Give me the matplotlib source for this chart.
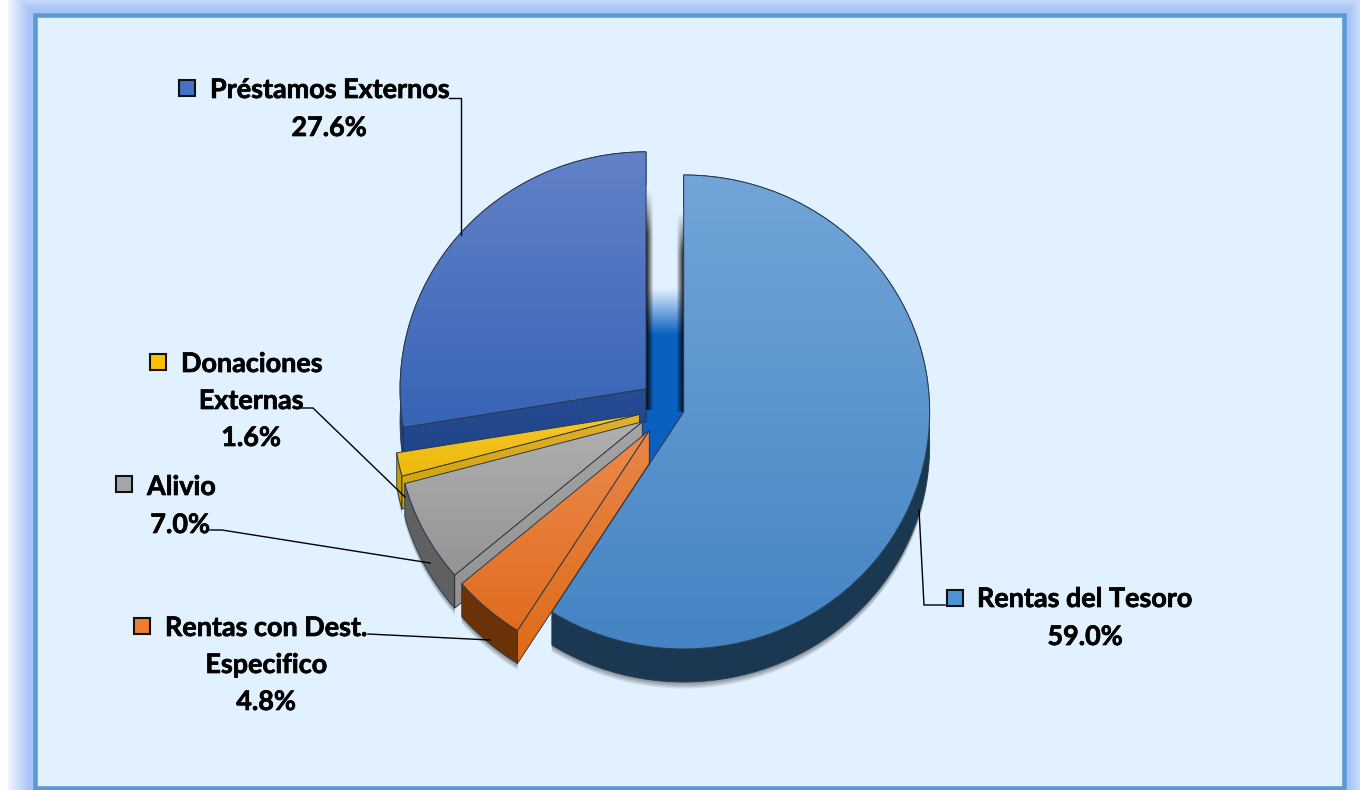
import numpy as np
import matplotlib
matplotlib.use('Agg')
from matplotlib import pyplot as plt
from matplotlib import patheffects
from matplotlib.colors import to_rgb
from matplotlib.patches import Polygon, Rectangle

# slices, clockwise from the top
names = ['Rentas del Tesoro', 'Rentas con Dest.\nEspecifico', 'Alivio', 'Donaciones\nExternas', 'Préstamos Externos']
shares = [59.0, 4.8, 7.0, 1.6, 27.6]
explode = [0.06, 0.125, 0.125, 0.125, 0.125]

top_light = ['#72a5d8', '#ec8a4c', '#b0b0b0', '#f5c62e', '#6282c8']
top_dark = ['#4484c4', '#e06c1e', '#949494', '#eeb908', '#3864b6']
cut_light = ['#1b3a58', '#e88548', '#a4a4a4', '#e0b030', '#264c94']
cut_dark = ['#1b3a58', '#dd6c18', '#929292', '#cfa000', '#1f4488']
arc_colors = ['#1b3853', '#6b3208', '#606060', '#c89a00', '#1f4488']
key_colors = ['#4f93d6', '#ed7d31', '#a5a5a5', '#ffc000', '#4472c4']

# px positions for the text block: key box left/top, text left, centre y
key_box = [(947, 590), (134, 618), (116, 476), (150, 354), (179, 80)]
label_left = [977, 165, 147, 181, 210]
line_y = [599, 628, 487, 364, 90]
line_gap = [38, 37, 38, 37, 38]
centre_x = [1085, 266, 180, 251, 329]

leaders = [
    ([919, 924, 945], [510, 605, 605]),
    ([368, 490], [634, 640]),
    ([210, 222, 430], [530, 530, 563]),
    ([302, 313, 405], [408, 408, 497]),
    ([449, 461, 461], [98, 98, 235]),
]

W, H = 1360, 790
RX, RY = 246.0, 237.0   # pie is a little flattened
DEPTH = 33 / RY
FRAME = (34.5, 14.5, 1344, 787.5)

fig = plt.figure(figsize=(W / 100, H / 100), dpi=100)
plt.rcParams['font.family'] = ['Lato', 'DejaVu Sans']

# background: soft glow, frame and pale inner panel
bg = fig.add_axes([0, 0, 1, 1], zorder=0)
bg.set_xlim(0, W)
bg.set_ylim(H, 0)
bg.axis('off')
bg.autoscale(False)
xx, yy = np.meshgrid(np.arange(W) + 0.5, np.arange(H) + 0.5)
dist = np.maximum.reduce([FRAME[0] - xx, xx - FRAME[2], FRAME[1] - yy, yy - FRAME[3], np.zeros_like(xx)])
t = np.clip((dist - 5) / 20, 0, 1)[..., None]
glow = (1 - t) * np.array(to_rgb('#a6c4f7')) + t * np.array(to_rgb('#eef3fd'))
glow[xx < 8] = 1.0
bg.imshow(glow, extent=(0, W, H, 0), aspect='auto', zorder=0)
bg.add_patch(Rectangle((FRAME[0], FRAME[1]), FRAME[2] - FRAME[0], FRAME[3] - FRAME[1],
                       facecolor='#e1f1ff', edgecolor='#5b9bd5', linewidth=3.3, zorder=1))

# blue glow in the gap between the two big slices
strip = np.ones((200, 1, 4))
strip[..., :3] = to_rgb('#0a60bf')
strip[:, 0, 3] = np.clip((np.linspace(285, 470, 200) - 288) / 46, 0, 1)
bg.imshow(strip, extent=(636, 684, 470, 285), aspect='auto', zorder=2, interpolation='bilinear')

# dark soft shadows along both straight edges
fade = np.clip(np.linspace(0, 1, 60) * 5, 0, 1)
side = np.zeros((60, 8, 4))
side[..., 3] = fade[:, None] * np.linspace(0.85, 0, 8)[None, :]
bg.imshow(side, extent=(646, 654, 410, 188), aspect='auto', zorder=3, interpolation='bilinear')
bg.imshow(side[:, ::-1], extent=(676, 684, 412, 210), aspect='auto', zorder=3, interpolation='bilinear')

# pie axes in radius units, not equal aspect
ax = fig.add_axes([0, 0, 1, 1], zorder=1)
ax.patch.set_visible(False)
wedges, _ = ax.pie(shares, explode=explode, startangle=90, counterclock=False, radius=1,
                   center=(669.5 / RX, (H - 408) / RY), frame=True,
                   wedgeprops=dict(facecolor='none', edgecolor='#2a3a4a', linewidth=0.7))
ax.set_aspect('auto')
ax.set_xlim(0, W / RX)
ax.set_ylim(0, H / RY)
ax.axis('off')
ax.autoscale(False)


def fill_gradient(patch, pts, c1, c2, z):
    col = np.linspace(to_rgb(c1), to_rgb(c2), 128)[:, None, :]
    im = ax.imshow(col, extent=(pts[:, 0].min(), pts[:, 0].max(), pts[:, 1].min(), pts[:, 1].max()),
                   aspect='auto', zorder=z, interpolation='bilinear')
    im.set_clip_path(patch)


# back to front
for rank, i in enumerate([4, 3, 2, 1, 0]):
    w = wedges[i]
    cx, cy = w.center
    th = np.radians(np.linspace(w.theta1, w.theta2, 160))
    arc = np.column_stack([cx + w.r * np.cos(th), cy + w.r * np.sin(th)])
    low = arc - [0, DEPTH]
    z = 10 + rank * 10

    # soft shadow under the outer wall
    for k in range(1, 6):
        ax.add_patch(Polygon(np.vstack([arc, low[::-1]]) - [0, k / RY * 1.3], closed=True,
                             facecolor='black', edgecolor='none', alpha=0.09, zorder=z))

    ax.add_patch(Polygon(np.vstack([arc, low[::-1]]), closed=True, facecolor=arc_colors[i],
                         edgecolor='#2a3a4a', linewidth=0.6, zorder=z + 1))

    # cut face on the edge where the slice starts
    if i != 0:
        edge = np.array([[cx, cy], arc[-1], arc[-1] - [0, DEPTH], [cx, cy - DEPTH]])
        cut = Polygon(edge, closed=True, facecolor='none', edgecolor='#2a2a2a', linewidth=0.6, zorder=z + 3)
        ax.add_patch(cut)
        fill_gradient(cut, edge, cut_light[i], cut_dark[i], z + 2)

    pts = np.vstack([arc, [[cx, cy]]])
    fill_gradient(w, pts, top_light[i], top_dark[i], z + 4)
    w.set_zorder(z + 5)

# labels on top
top = fig.add_axes([0, 0, 1, 1], zorder=2)
top.set_xlim(0, W)
top.set_ylim(H, 0)
top.axis('off')
top.patch.set_visible(False)
heavy = [patheffects.withStroke(linewidth=0.5, foreground='black')]

for i, name in enumerate(names):
    top.plot(leaders[i][0], leaders[i][1], color='black', linewidth=1.0, solid_joinstyle='miter')
    kx, ky = key_box[i]
    top.add_patch(Rectangle((kx, ky), 16, 16, facecolor=key_colors[i], edgecolor='#111111', linewidth=1.5))
    parts = name.split('\n')
    top.text(label_left[i], line_y[i], parts[0], fontsize=19.4, fontweight='bold', color='black',
             ha='left', va='center', path_effects=heavy)
    n = 1
    for extra in parts[1:]:
        top.text(centre_x[i], line_y[i] + n * line_gap[i], extra, fontsize=19.4, fontweight='bold',
                 color='black', ha='center', va='center', path_effects=heavy)
        n += 1
    top.text(centre_x[i], line_y[i] + n * line_gap[i], f'{shares[i]:.1f}%', fontsize=19.4, fontweight='bold',
             color='black', ha='center', va='center', path_effects=heavy)

fig.savefig('out.png', dpi=100)
